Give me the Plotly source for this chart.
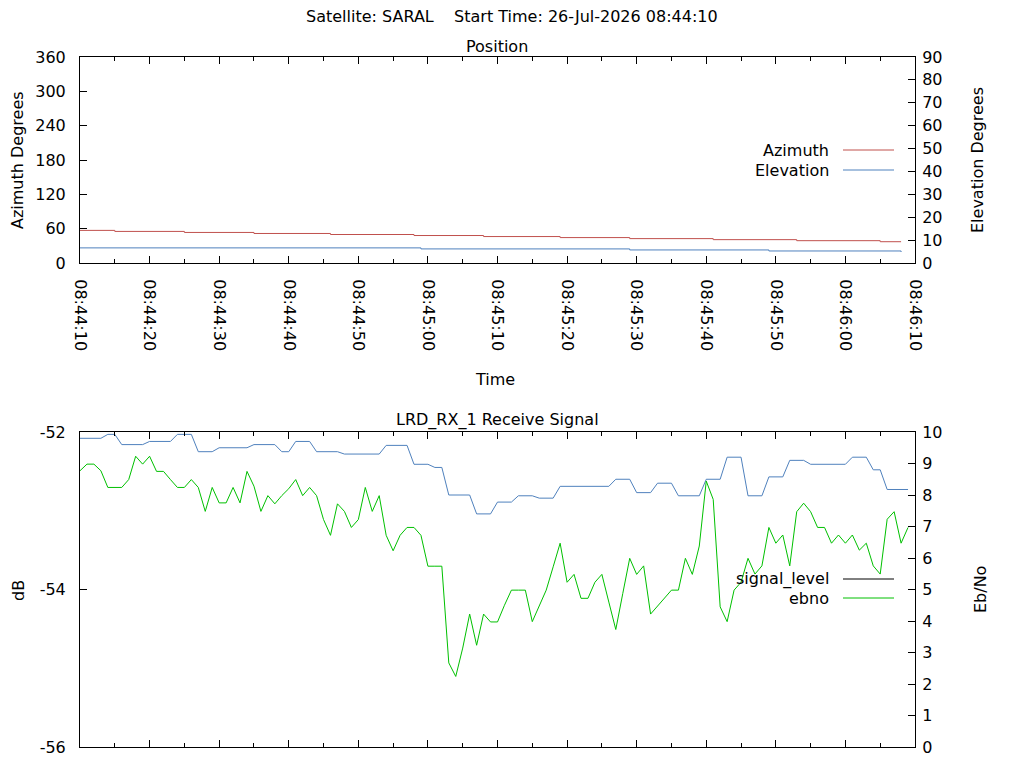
import datetime as dt
import plotly.graph_objects as go

# --- data -------------------------------------------------------------
start = dt.datetime(2026, 7, 26, 8, 44, 10)

# position (change points, seconds from start)
pos_sec = [0, 5, 15, 25, 36, 48, 58, 69, 79, 91, 103, 115, 118]
azimuth = [57.0, 55.2, 53.4, 51.6, 49.8, 48.0, 46.2, 44.4, 42.6, 40.8, 39.0, 37.2, 37.2]
elev_sec = [0, 49, 79, 99, 118]
elevation = [6.6, 6.15, 5.7, 5.25, 4.8]

# receive signal, one sample per second
rx_sec = list(range(120))
rx_level = [
    -52.08, -52.08, -52.08, -52.08, -52.03, -52.03, -52.16, -52.16, -52.16, -52.16,
    -52.12, -52.12, -52.12, -52.12, -52.03, -52.03, -52.03, -52.25, -52.25, -52.25,
    -52.20, -52.20, -52.20, -52.20, -52.20, -52.16, -52.16, -52.16, -52.16, -52.25,
    -52.25, -52.12, -52.12, -52.12, -52.25, -52.25, -52.25, -52.25, -52.28, -52.28,
    -52.28, -52.28, -52.28, -52.28, -52.17, -52.17, -52.17, -52.17, -52.41, -52.41,
    -52.41, -52.45, -52.45, -52.80, -52.80, -52.80, -52.80, -53.04, -53.04, -53.04,
    -52.89, -52.89, -52.89, -52.81, -52.81, -52.81, -52.84, -52.84, -52.84, -52.69,
    -52.69, -52.69, -52.69, -52.69, -52.69, -52.69, -52.69, -52.60, -52.60, -52.60,
    -52.77, -52.77, -52.77, -52.65, -52.65, -52.65, -52.81, -52.81, -52.81, -52.81,
    -52.60, -52.60, -52.60, -52.32, -52.32, -52.32, -52.81, -52.81, -52.81, -52.57,
    -52.57, -52.57, -52.36, -52.36, -52.36, -52.41, -52.41, -52.41, -52.41, -52.41,
    -52.41, -52.32, -52.32, -52.32, -52.48, -52.48, -52.73, -52.73, -52.73, -52.73,
]
ebno = [
    8.77, 8.98, 8.98, 8.77, 8.24, 8.24, 8.24, 8.49, 9.23, 8.98,
    9.23, 8.75, 8.75, 8.49, 8.24, 8.24, 8.49, 8.24, 7.48, 8.24,
    7.75, 7.75, 8.24, 7.75, 8.75, 8.28, 7.48, 7.98, 7.72, 7.98,
    8.20, 8.49, 7.98, 8.24, 7.98, 7.22, 6.72, 7.72, 7.48, 6.97,
    7.22, 8.24, 7.48, 7.98, 6.72, 6.23, 6.72, 6.97, 6.97, 6.72,
    5.74, 5.74, 5.74, 2.67, 2.24, 3.14, 4.22, 3.23, 4.22, 3.97,
    3.97, 4.50, 4.98, 4.98, 4.98, 3.98, 4.50, 4.98, 5.72, 6.47,
    5.23, 5.48, 4.72, 4.72, 5.23, 5.48, 4.60, 3.73, 4.87, 5.99,
    5.48, 5.75, 4.22, 4.48, 4.72, 4.98, 4.98, 5.99, 5.48, 6.38,
    8.44, 7.86, 4.45, 3.98, 4.98, 5.23, 5.99, 5.49, 5.75, 6.97,
    6.47, 6.73, 5.75, 7.47, 7.74, 7.47, 6.97, 6.97, 6.47, 6.73,
    6.47, 6.73, 6.25, 6.47, 5.75, 5.49, 7.23, 7.47, 6.47, 6.97,
]
db_ticks = [-56, -54, -52]


def to_time(secs):
    return [start + dt.timedelta(seconds=s) for s in secs]


# --- layout helpers ----------------------------------------------------
# the page has an 8px body margin, so work in page pixels and shift
W, H, OFF = 1024, 768, 8
L, R, T, B = 80, 915, 57, 747          # plot box in page pixels
ML, MT = L - OFF, T - OFF
MR, MB = W - (R - OFF), H - (B - OFF)
PW, PH = R - L, B - T


def px(x):
    return (x - L) / PW


def py(y):
    return (B - y) / PH


RED = "#c0504d"
BLUE = "#4f81bd"
GREEN = "#00c000"
FONT = "DejaVu Sans"
FS = 16

fig = go.Figure()

fig.add_trace(go.Scatter(x=to_time(pos_sec), y=azimuth, mode="lines", name="Azimuth",
                         line=dict(color=RED, width=1, shape="hv"), xaxis="x", yaxis="y"))
fig.add_trace(go.Scatter(x=to_time(elev_sec), y=elevation, mode="lines", name="Elevation",
                         line=dict(color=BLUE, width=1, shape="hv"), xaxis="x", yaxis="y2"))
fig.add_trace(go.Scatter(x=to_time(rx_sec), y=rx_level, mode="lines", name="level",
                         line=dict(color=BLUE, width=1), xaxis="x2", yaxis="y3"))
fig.add_trace(go.Scatter(x=to_time(rx_sec), y=ebno, mode="lines", name="ebno",
                         line=dict(color=GREEN, width=1), xaxis="x2", yaxis="y4"))

xr = [start, start + dt.timedelta(seconds=120)]
common = dict(showline=True, linecolor="black", linewidth=1, ticks="inside", ticklen=7,
              tickcolor="black", showgrid=False, zeroline=False)
xcommon = dict(common, type="date", range=xr, dtick=10000, tick0=start, mirror="ticks",
               minor=dict(dtick=5000, ticks="inside", ticklen=4, tickcolor="black"))

top_dom = [py(263), 1.0]
bot_dom = [0.0, py(432)]

fig.update_layout(
    width=W, height=H,
    margin=dict(l=ML, r=MR, t=MT, b=MB),
    paper_bgcolor="white", plot_bgcolor="white",
    showlegend=False,
    font=dict(family=FONT, size=FS, color="black"),
    xaxis=dict(xcommon, anchor="y", domain=[0, 1], tickformat="%H:%M:%S", tickangle=90,
               ticklabelstandoff=12),
    yaxis=dict(common, domain=top_dom, range=[0, 360], dtick=60, ticklabelstandoff=10),
    yaxis2=dict(common, overlaying="y", side="right", anchor="x", range=[0, 90], dtick=10,
                ticklabelstandoff=3),
    xaxis2=dict(xcommon, anchor="y3", domain=[0, 1], showticklabels=False),
    yaxis3=dict(common, domain=bot_dom, anchor="x2", range=[-56, -52],
                tickvals=db_ticks, ticktext=[str(v) for v in db_ticks], ticklabelstandoff=10),
    yaxis4=dict(common, overlaying="y3", side="right", anchor="x2", range=[0, 10], dtick=1,
                ticklabelstandoff=3),
)

texts = [
    ("Satellite: SARAL&nbsp;&nbsp;&nbsp;&nbsp;Start Time: 26-Jul-2026 08:44:10", 512, 17, 0),
    ("Position", 497, 46, 0),
    ("Azimuth Degrees", 18, 160, -90),
    ("Elevation Degrees", 978, 160, -90),
    ("Time", 495, 379, 0),
    ("LRD_RX_1 Receive Signal", 497, 420, 0),
    ("dB", 18, 590, -90),
    ("Eb/No", 980, 590, -90),
]
for txt, x, y, ang in texts:
    fig.add_annotation(text=txt, xref="paper", yref="paper", x=px(x), y=py(y),
                       xanchor="center", yanchor="middle", textangle=ang,
                       showarrow=False, font=dict(family=FONT, size=FS, color="black"))

# key, gnuplot style: text on the left, line sample on the right
legend_items = [("Azimuth", RED, 150), ("Elevation", BLUE, 170),
                ("signal_level", "black", 579), ("ebno", GREEN, 598)]
for name, col, y in legend_items:
    fig.add_annotation(text=name, xref="paper", yref="paper", x=px(831), y=py(y),
                       xanchor="right", yanchor="middle", showarrow=False,
                       font=dict(family=FONT, size=FS, color="black"))
    fig.add_shape(type="line", xref="paper", yref="paper", x0=px(843), x1=px(894),
                  y0=py(y), y1=py(y), line=dict(color=col, width=1))

fig.write_html("out.html")
